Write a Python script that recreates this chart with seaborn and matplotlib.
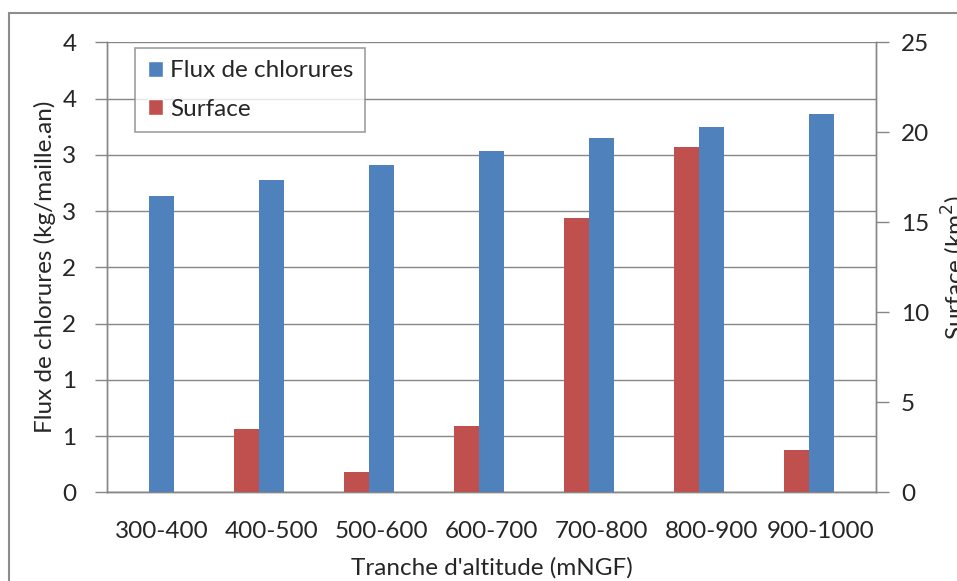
import pandas as pd
import numpy as np
import matplotlib
matplotlib.use("Agg")
import matplotlib.pyplot as plt
from matplotlib.patches import Patch
from matplotlib.lines import Line2D
from matplotlib.ticker import FuncFormatter
import seaborn as sns

###############################################################
# data
tranches = ['300-400', '400-500', '500-600', '600-700', '700-800', '800-900', '900-1000']
flux = [2.63, 2.78, 2.91, 3.03, 3.15, 3.25, 3.36]        # kg/maille.an (left axis)
surface = [0.0, 3.52, 1.11, 3.70, 15.26, 19.18, 2.33]    # km2 (right axis)

lbl_flux = 'Flux de chlorures'
lbl_surf = 'Surface'
hue_levels = [lbl_surf, lbl_flux, '_vide']

blue = '#4F81BD'
red = '#C0504D'
grey = '#868686'
palette = {lbl_flux: blue, lbl_surf: red, '_vide': 'white'}

df_flux = pd.DataFrame({'tranche': tranches, 'val': flux, 'serie': lbl_flux})
df_surf = pd.DataFrame({'tranche': tranches, 'val': surface, 'serie': lbl_surf})

###############################################################
sns.set_style('white')
plt.rcParams['font.family'] = ['Lato', 'DejaVu Sans']
fs = 17.5

fig = plt.figure(figsize=(9.57, 5.81), dpi=100)
ax = fig.add_axes([107 / 957, 1 - 492.3 / 581, 769 / 957, 450 / 581])
ax2 = ax.twinx()

sns.barplot(data=df_flux, x='tranche', y='val', hue='serie', hue_order=hue_levels,
            palette=palette, saturation=1, width=0.68, dodge=True, legend=False, ax=ax,
            order=tranches, linewidth=0, zorder=3)
sns.barplot(data=df_surf, x='tranche', y='val', hue='serie', hue_order=hue_levels,
            palette=palette, saturation=1, width=0.68, dodge=True, legend=False, ax=ax2,
            order=tranches, linewidth=0, zorder=3)

# left axis
ax.set_ylim(0, 4)
ax.set_yticks(np.arange(0, 4.01, 0.5))
ax.yaxis.set_major_formatter(FuncFormatter(lambda v, p: f'{int(np.floor(v + 0.5))}'))
ax.grid(axis='y', color=grey, linewidth=1, zorder=0)
ax.set_axisbelow(True)

# right axis
ax2.set_ylim(0, 25)
ax2.set_yticks(np.arange(0, 26, 5))
ax2.grid(False)

# category ticks between the groups
ax.set_xlim(-0.5, len(tranches) - 0.5)
ax.set_xticks(np.arange(len(tranches)))
ax.set_xticklabels(tranches, fontsize=fs)
ax.set_xticks(np.arange(len(tranches) + 1) - 0.5, minor=True)
ax.tick_params(axis='x', which='major', length=0, pad=21)
ax.tick_params(axis='x', which='minor', length=9, width=1, color=grey, direction='out')
ax.tick_params(axis='y', length=9, width=1, color=grey, direction='out', labelsize=fs, pad=13)
ax2.tick_params(axis='y', length=9, width=1, color=grey, direction='out', labelsize=fs, pad=9)

for a in (ax, ax2):
    for s in a.spines.values():
        s.set_color(grey)
        s.set_linewidth(1)
    a.spines['top'].set_visible(False)

ax.set_xlabel("Tranche d'altitude (mNGF)", fontsize=fs)
ax.xaxis.set_label_coords(0.5, -0.145)
ax.set_ylabel('Flux de chlorures (kg/maille.an)', fontsize=fs)
ax.yaxis.set_label_coords(-0.066, 0.5)
ax2.set_ylabel('Surface (km$^2$)', fontsize=fs)
ax2.yaxis.set_label_coords(1.083, 0.5)

handles = [Patch(facecolor=blue, label=lbl_flux), Patch(facecolor=red, label=lbl_surf)]
leg = ax2.legend(handles=handles, loc='upper left', bbox_to_anchor=(0.037, 0.987),
                 borderaxespad=0, fontsize=fs, frameon=True, fancybox=False,
                 handlelength=0.62, handleheight=0.62, handletextpad=0.3,
                 labelspacing=0.72, borderpad=0.5)
leg.get_frame().set_edgecolor(grey)
leg.get_frame().set_linewidth(1.2)

# chart area border (cropped at right and bottom)
fig.add_artist(Line2D([9 / 957, 1], [1 - 13 / 581] * 2, color='#8c8c8c', lw=1.5))
fig.add_artist(Line2D([9 / 957] * 2, [0, 1 - 13 / 581], color='#8c8c8c', lw=1.5))

fig.savefig('out.png', dpi=100)
